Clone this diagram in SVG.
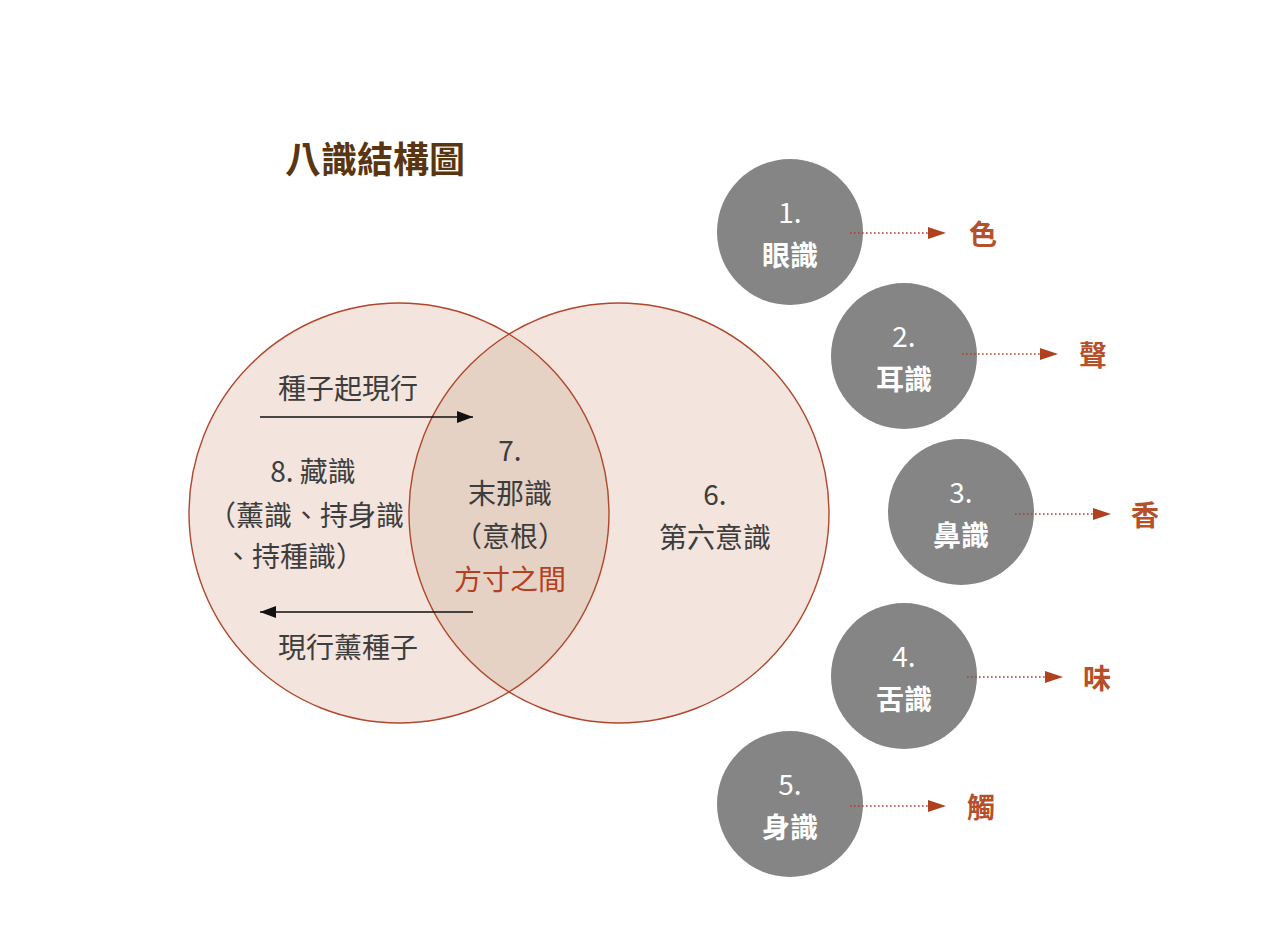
<svg xmlns="http://www.w3.org/2000/svg" width="1280" height="952" viewBox="0 0 1280 952">
<defs>
<style>
text{font-family:"Noto Sans CJK TC","Noto Sans CJK SC",sans-serif;text-anchor:middle;dominant-baseline:central}
.big{fill:#f3e4dd;stroke:none}
.ring{fill:none;stroke:#b0472c;stroke-width:1.4}
.lbl{font-size:28px;fill:#3d3d3d}
.gray{fill:#858585}
.num{font-size:28px;fill:#fff}
.sense{font-size:28px;fill:#fff;font-weight:bold}
.obj{font-size:28px;fill:#b5502a;font-weight:bold}
.dot{stroke:#b0402a;stroke-width:1.6;stroke-dasharray:1.6 2.4;fill:none}
.ar{stroke:#111;stroke-width:1.4;fill:none}
</style>
<marker id="red" markerWidth="18" markerHeight="12" refX="0" refY="6" orient="auto" markerUnits="userSpaceOnUse"><path d="M0,0 L18,6 L0,12 Z" fill="#b0401f"/></marker>
<marker id="blk" markerWidth="16" markerHeight="12" refX="16" refY="6" orient="auto" markerUnits="userSpaceOnUse"><path d="M0,0 L16,6 L0,12 Z" fill="#111"/></marker>
<clipPath id="clipL"><circle cx="399" cy="513" r="210"/></clipPath>
</defs>
<rect width="1280" height="952" fill="#fff"/>
<text x="375" y="157" style="font-size:36px;fill:#5a3512;font-weight:bold">八識結構圖</text>

<g id="venn">
<circle class="big" cx="399" cy="513" r="210"/>
<circle class="big" cx="619" cy="513" r="210"/>
<circle cx="619" cy="513" r="210" fill="#e6d1c5" clip-path="url(#clipL)"/>
<circle class="ring" cx="399" cy="513" r="210"/>
<circle class="ring" cx="619" cy="513" r="210"/>
</g>

<g id="node8">
<text class="lbl" x="313" y="470">8. 藏識</text>
<text class="lbl" x="306" y="514">（薰識、持身識</text>
<text class="lbl" x="294" y="555">、持種識）</text>
</g>
<g id="node7">
<text class="lbl" x="510" y="449">7.</text>
<text class="lbl" x="510" y="492">末那識</text>
<text class="lbl" x="510" y="535">（意根）</text>
<text class="lbl" x="510" y="578" style="fill:#b3401f">方寸之間</text>
</g>
<g id="node6">
<text class="lbl" x="715" y="493">6.</text>
<text class="lbl" x="715" y="536">第六意識</text>
</g>

<g id="n1"><circle class="gray" cx="790" cy="232" r="73"/><text class="num" x="790" y="211">1.</text><text class="sense" x="790" y="254">眼識</text></g>
<g id="n2"><circle class="gray" cx="904" cy="356" r="73"/><text class="num" x="904" y="335">2.</text><text class="sense" x="904" y="378">耳識</text></g>
<g id="n3"><circle class="gray" cx="961" cy="512" r="73"/><text class="num" x="961" y="491">3.</text><text class="sense" x="961" y="534">鼻識</text></g>
<g id="n4"><circle class="gray" cx="904" cy="676" r="73"/><text class="num" x="904" y="655">4.</text><text class="sense" x="904" y="698">舌識</text></g>
<g id="n5"><circle class="gray" cx="790" cy="804" r="73"/><text class="num" x="790" y="783">5.</text><text class="sense" x="790" y="826">身識</text></g>

<g id="objects">
<text class="obj" x="983" y="233">色</text>
<text class="obj" x="1093" y="354">聲</text>
<text class="obj" x="1145" y="514">香</text>
<text class="obj" x="1097" y="677">味</text>
<text class="obj" x="981" y="806">觸</text>
</g>

<g id="connectors">
<line class="dot" x1="850" y1="233" x2="928" y2="233" marker-end="url(#red)"/>
<line class="dot" x1="962" y1="354" x2="1040" y2="354" marker-end="url(#red)"/>
<line class="dot" x1="1015" y1="514" x2="1093" y2="514" marker-end="url(#red)"/>
<line class="dot" x1="967" y1="677" x2="1045" y2="677" marker-end="url(#red)"/>
<line class="dot" x1="850" y1="806" x2="928" y2="806" marker-end="url(#red)"/>
<line class="ar" x1="260" y1="417" x2="473" y2="417" marker-end="url(#blk)"/>
<line class="ar" x1="473" y1="612" x2="260" y2="612" marker-end="url(#blk)"/>
<text class="lbl" x="348" y="387">種子起現行</text>
<text class="lbl" x="348" y="646">現行薰種子</text>
</g>
</svg>
